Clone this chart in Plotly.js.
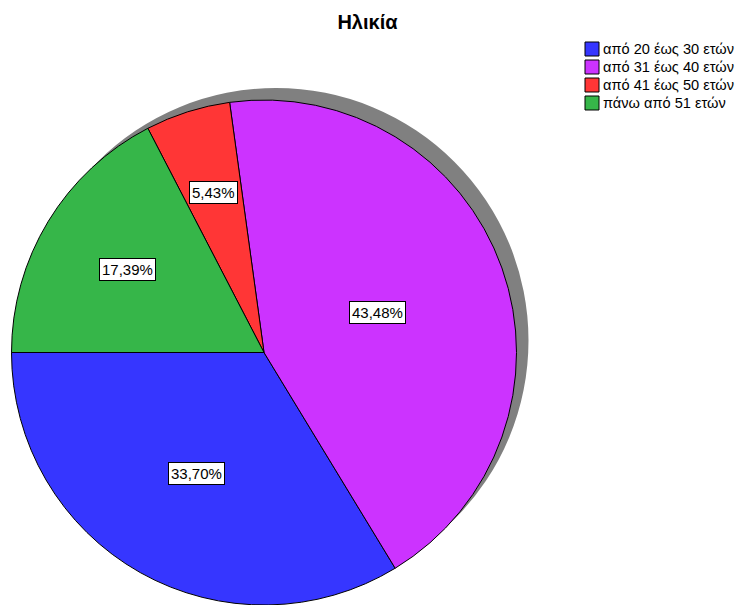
<!DOCTYPE html>
<html>
<head>
<meta charset="utf-8">
<script src="https://cdn.plot.ly/plotly-3.0.1.min.js"></script>
<style>html,body{margin:0;padding:0;background:#fff;}#chart{width:742px;height:605px;}</style>
</head>
<body>
<div id="chart"></div>
<script>
// ---- data ----
var chartTitle = 'Ηλικία';
var categories = ['από 20 έως 30 ετών', 'από 31 έως 40 ετών', 'από 41 έως 50 ετών', 'πάνω από 51 ετών'];
var counts = [31, 40, 5, 16];
var colors = ['#3636ff', '#cc33ff', '#ff3636', '#36b649'];

// ---- geometry (pixels) ----
var W = 742, H = 605;
var R = 252.5, cx = 264, cy = 352.5;
var shadowDx = 12, shadowDy = -12;
var startAngle = 270; // 9 o'clock, slices go counterclockwise from here

function px2x(p) { return p / W; }
function px2y(p) { return 1 - p / H; }

var total = counts.reduce(function (a, b) { return a + b; }, 0);

var shadow = {
  type: 'pie', values: [1], labels: ['shadow'], sort: false,
  marker: { colors: ['#808080'], line: { width: 0 } },
  textinfo: 'none', hoverinfo: 'skip', showlegend: false,
  domain: { x: [px2x(cx + shadowDx - R), px2x(cx + shadowDx + R)],
            y: [px2y(cy + shadowDy + R), px2y(cy + shadowDy - R)] }
};

// Plotly's counterclockwise pies put the first slice's far edge at `rotation`
var pie = {
  type: 'pie', labels: categories, values: counts, sort: false,
  direction: 'counterclockwise', rotation: startAngle - 360 * counts[0] / total,
  marker: { colors: colors, line: { color: '#000000', width: 1 } },
  textinfo: 'none', hoverinfo: 'label+percent', showlegend: false,
  domain: { x: [px2x(cx - R), px2x(cx + R)], y: [Math.max(0, px2y(cy + R)), px2y(cy - R)] }
};

var annotations = [];
var shapes = [];
var cum = 0;
counts.forEach(function (v, i) {
  var frac = v / total;
  var a0 = startAngle - cum * 360;
  var a1 = a0 - frac * 360;
  var mid = (a0 + a1) / 2 * Math.PI / 180;
  var half = frac * Math.PI; // half sector angle in radians
  var d = 2 * R * Math.sin(half) / (3 * half);
  var lx = cx + d * Math.sin(mid), ly = cy - d * Math.cos(mid);
  annotations.push({
    xref: 'paper', yref: 'paper', x: px2x(lx), y: px2y(ly),
    xanchor: 'center', yanchor: 'middle', showarrow: false,
    text: (frac * 100).toFixed(2).replace('.', ',') + '%',
    font: { family: 'Liberation Sans, Arial, sans-serif', size: 15, color: '#000' },
    bgcolor: '#ffffff', bordercolor: '#000000', borderwidth: 1, borderpad: 2
  });
  cum += frac;
});

// manual legend
var legX = 585, legY = 42, sq = 14, pitch = 18;
categories.forEach(function (c, i) {
  var top = legY + i * pitch;
  shapes.push({
    type: 'rect', xref: 'paper', yref: 'paper',
    x0: px2x(legX), x1: px2x(legX + sq), y0: px2y(top + sq), y1: px2y(top),
    fillcolor: colors[i], line: { color: '#000000', width: 1 }
  });
  annotations.push({
    xref: 'paper', yref: 'paper', x: px2x(legX + sq + 2), y: px2y(top + sq / 2),
    xanchor: 'left', yanchor: 'middle', showarrow: false, text: c,
    font: { family: 'Liberation Sans, Arial, sans-serif', size: 14.6, color: '#000' }
  });
});

var layout = {
  width: W, height: H,
  margin: { l: 0, r: 0, t: 0, b: 0, pad: 0 },
  paper_bgcolor: '#ffffff',
  showlegend: false,
  title: {
    text: '<b>' + chartTitle + '</b>',
    x: px2x(367.5), xanchor: 'center', xref: 'paper',
    y: 1 - 22 / H, yanchor: 'middle', yref: 'container',
    font: { family: 'Liberation Sans, Arial, sans-serif', size: 20, color: '#000' }
  },
  annotations: annotations,
  shapes: shapes
};

Plotly.newPlot('chart', [shadow, pie], layout, { displayModeBar: false, staticPlot: true });
</script>
</body>
</html>
